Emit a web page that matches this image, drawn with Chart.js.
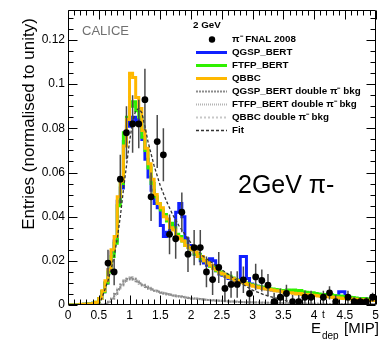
<!DOCTYPE html>
<html>
<head>
<meta charset="utf-8">
<script src="https://cdn.jsdelivr.net/npm/chart.js@4.4.1/dist/chart.umd.min.js"></script>
<style>
    html, body { margin: 0; padding: 0; background: #fff; }
    #wrap { width: 382px; height: 340px; position: relative; }
</style>
</head>
<body>
<div id="wrap"><canvas id="edepChart"></canvas></div>
<script>
(function() {
    'use strict';

    // ==========================================
    // DATA (E_dep in MIP, entries normalised to unity)
    // ==========================================
    const MC_BIN_START = 0;
    const MC_BIN_WIDTH = 0.05;

    const QGSP_BERT = [
        0, 0, 0, 0, 0.0002, 0.0003, 0.0004, 0.0005, 0.0008, 0.0011,
        0.003, 0.006, 0.010, 0.016, 0.024, 0.029, 0.047, 0.053, 0.074, 0.081,
        0.083, 0.085, 0.082, 0.084, 0.075, 0.066, 0.058, 0.052, 0.046, 0.044,
        0.036, 0.031, 0.033, 0.036, 0.035, 0.042, 0.046, 0.040, 0.030, 0.027,
        0.025, 0.023, 0.022, 0.020, 0.019, 0.018, 0.021, 0.020, 0.0155, 0.014,
        0.0135, 0.013, 0.012, 0.0118, 0.011, 0.0108, 0.022, 0.022, 0.012, 0.0095,
        0.009, 0.0085, 0.008, 0.0077, 0.0074, 0.007, 0.0068, 0.0066, 0.0064, 0.0062,
        0.006, 0.0058, 0.0062, 0.0056, 0.0054, 0.0052, 0.005, 0.0049, 0.0048, 0.0046,
        0.0045, 0.0043, 0.0042, 0.004, 0.0039, 0.0038, 0.0037, 0.0036, 0.006, 0.006,
        0.0035, 0.0033, 0.0032, 0.003, 0.003, 0.0028, 0.0027, 0.0026, 0.0025, 0.0024
    ];
    const FTFP_BERT = [
        0, 0, 0, 0, 0.0002, 0.0003, 0.0004, 0.0005, 0.0008, 0.0012,
        0.003, 0.006, 0.010, 0.015, 0.022, 0.028, 0.045, 0.055, 0.078, 0.085,
        0.090, 0.092, 0.088, 0.085, 0.076, 0.070, 0.062, 0.055, 0.049, 0.046,
        0.043, 0.041, 0.038, 0.037, 0.035, 0.032, 0.031, 0.029, 0.027, 0.026,
        0.025, 0.023, 0.023, 0.021, 0.020, 0.019, 0.0175, 0.017, 0.0155, 0.015,
        0.014, 0.0135, 0.013, 0.0122, 0.0115, 0.011, 0.0108, 0.010, 0.0097, 0.0092,
        0.009, 0.0085, 0.0083, 0.008, 0.0078, 0.0074, 0.0072, 0.007, 0.0068, 0.0066,
        0.0065, 0.0068, 0.0063, 0.0068, 0.0062, 0.0066, 0.006, 0.0058, 0.0056, 0.0055,
        0.0052, 0.005, 0.0048, 0.0047, 0.0045, 0.0046, 0.0043, 0.004, 0.0041, 0.0038,
        0.0036, 0.0035, 0.0034, 0.0032, 0.003, 0.003, 0.0029, 0.0027, 0.0026, 0.0025
    ];
    const QBBC = [
        0, 0, 0, 0, 0.0003, 0.0003, 0.0004, 0.0005, 0.0007, 0.0012,
        0.003, 0.0065, 0.011, 0.016, 0.025, 0.031, 0.049, 0.056, 0.072, 0.084,
        0.105, 0.103, 0.094, 0.089, 0.079, 0.071, 0.064, 0.057, 0.050, 0.046,
        0.044, 0.040, 0.039, 0.035, 0.034, 0.031, 0.030, 0.029, 0.027, 0.026,
        0.025, 0.024, 0.022, 0.022, 0.020, 0.019, 0.018, 0.0165, 0.016, 0.0145,
        0.014, 0.013, 0.0125, 0.012, 0.0112, 0.011, 0.0103, 0.0098, 0.0093, 0.009,
        0.0085, 0.0082, 0.0078, 0.0075, 0.0072, 0.007, 0.0068, 0.0065, 0.0063, 0.006,
        0.0058, 0.0056, 0.0055, 0.0053, 0.005, 0.0052, 0.0048, 0.0047, 0.0046, 0.0044,
        0.0043, 0.0041, 0.004, 0.0038, 0.0037, 0.0036, 0.0034, 0.0033, 0.0032, 0.003,
        0.0029, 0.0028, 0.0027, 0.0026, 0.0025, 0.0024, 0.0023, 0.0022, 0.0021, 0.002
    ];

    const QGSP_BERT_BKG = [
        0, 0, 0, 0, 0, 0, 0, 0, 0, 0,
        0, 0.0002, 0.0006, 0.0015, 0.003, 0.005, 0.0072, 0.0092, 0.011, 0.0118,
        0.0125, 0.0118, 0.0108, 0.0098, 0.009, 0.0082, 0.0075, 0.007, 0.0065, 0.006,
        0.0056, 0.0052, 0.0049, 0.0046, 0.0043, 0.004, 0.0038, 0.0036, 0.0034, 0.0032,
        0.003, 0.0029, 0.0027, 0.0026, 0.0024, 0.0023, 0.0022, 0.0021, 0.002, 0.0019,
        0.0018, 0.0017, 0.0016, 0.0016, 0.0015, 0.0014, 0.0014, 0.0013, 0.0013, 0.0012,
        0.0012, 0.0011, 0.0011, 0.001, 0.001, 0.001, 0.0009, 0.0009, 0.0009, 0.0008,
        0.0008, 0.0008, 0.0008, 0.0007, 0.0007, 0.0007, 0.0007, 0.0006, 0.0006, 0.0006,
        0.0006, 0.0006, 0.0005, 0.0005, 0.0005, 0.0005, 0.0005, 0.0005, 0.0004, 0.0004,
        0.0004, 0.0004, 0.0004, 0.0004, 0.0004, 0.0004, 0.0004, 0.0004, 0.0004, 0.0004
    ];
    const FTFP_BERT_BKG = [
        0, 0, 0, 0, 0, 0, 0, 0, 0, 0,
        0, 0.0001, 0.0005, 0.0013, 0.0028, 0.0046, 0.0068, 0.0088, 0.0104, 0.0114,
        0.0119, 0.0113, 0.0104, 0.0095, 0.0088, 0.008, 0.0074, 0.0068, 0.0063, 0.0059,
        0.0055, 0.0051, 0.0048, 0.0045, 0.0042, 0.0039, 0.0037, 0.0035, 0.0033, 0.0031,
        0.003, 0.0028, 0.0027, 0.0025, 0.0024, 0.0023, 0.0021, 0.002, 0.0019, 0.0018,
        0.0018, 0.0017, 0.0016, 0.0015, 0.0015, 0.0014, 0.0013, 0.0013, 0.0012, 0.0012,
        0.0011, 0.0011, 0.001, 0.001, 0.001, 0.0009, 0.0009, 0.0009, 0.0008, 0.0008,
        0.0008, 0.0008, 0.0007, 0.0007, 0.0007, 0.0007, 0.0006, 0.0006, 0.0006, 0.0006,
        0.0006, 0.0005, 0.0005, 0.0005, 0.0005, 0.0005, 0.0005, 0.0004, 0.0004, 0.0004,
        0.0004, 0.0004, 0.0004, 0.0004, 0.0004, 0.0004, 0.0004, 0.0004, 0.0004, 0.0004
    ];
    const QBBC_BKG = [
        0, 0, 0, 0, 0, 0, 0, 0, 0, 0,
        0, 0.0002, 0.0007, 0.0016, 0.0032, 0.0052, 0.0075, 0.0095, 0.0112, 0.0121,
        0.0127, 0.0121, 0.0111, 0.0101, 0.0093, 0.0085, 0.0078, 0.0072, 0.0067, 0.0062,
        0.0058, 0.0054, 0.005, 0.0047, 0.0044, 0.0041, 0.0039, 0.0037, 0.0035, 0.0033,
        0.0031, 0.003, 0.0028, 0.0027, 0.0025, 0.0024, 0.0023, 0.0022, 0.0021, 0.002,
        0.0019, 0.0018, 0.0017, 0.0016, 0.0016, 0.0015, 0.0014, 0.0014, 0.0013, 0.0013,
        0.0012, 0.0012, 0.0011, 0.0011, 0.001, 0.001, 0.001, 0.0009, 0.0009, 0.0009,
        0.0008, 0.0008, 0.0008, 0.0008, 0.0007, 0.0007, 0.0007, 0.0007, 0.0006, 0.0006,
        0.0006, 0.0006, 0.0006, 0.0005, 0.0005, 0.0005, 0.0005, 0.0005, 0.0005, 0.0004,
        0.0004, 0.0004, 0.0004, 0.0004, 0.0004, 0.0004, 0.0004, 0.0004, 0.0004, 0.0004
    ];

    // pi- FNAL 2008 test-beam data (null = no entry drawn)
    const DATA_X = [
        0.65, 0.75, 0.85, 0.95, 1.05, 1.15, 1.25, 1.35, 1.45, 1.55,
        1.65, 1.75, 1.85, 1.95, 2.05, 2.15, 2.25, 2.35, 2.45, 2.55,
        2.65, 2.75, 2.85, 2.95, 3.05, 3.15, 3.25, 3.35, 3.45, 3.55,
        3.65, 3.75, 3.85, 3.95, 4.05, 4.15, 4.25, 4.35, 4.45, 4.55,
        4.65, 4.75, 4.85, 4.95
    ];
    const DATA_Y = [
        0.019, 0.015, 0.057, 0.078, 0.082, 0.082, 0.093, 0.049, 0.074, 0.068,
        0.032, 0.030, 0.042, 0.023, 0.026, 0.026, 0.015, 0.0115, 0.017, 0.0075,
        0.0093, 0.0093, 0.0114, 0.0052, 0.0127, 0.0111, 0.009, 0.0015, 0.0035, 0.0052,
        0.0015, 0.0015, 0.0035, 0.0035, null, 0.0035, 0.0055, 0.0015, null, 0.0035,
        0.0015, 0.0015, 0.0015, 0.0035
    ];
    const DATA_ERR = [
        0.006, 0.006, 0.011, 0.012, 0.013, 0.011, 0.014, 0.011, 0.012, 0.012,
        0.009, 0.009, 0.009, 0.008, 0.008, 0.008, 0.007, 0.007, 0.007, 0.006,
        0.006, 0.006, 0.006, 0.005, 0.006, 0.005, 0.005, 0.004, 0.004, 0.004,
        0.003, 0.003, 0.003, 0.003, 0, 0.003, 0.003, 0.003, 0, 0.003,
        0.002, 0.002, 0.002, 0.002
    ];

    const FIT_X = [
        0.5, 0.55, 0.6, 0.65, 0.7, 0.75, 0.8, 0.85, 0.9, 0.95,
        1.0, 1.05, 1.1, 1.15, 1.2, 1.25, 1.3, 1.4, 1.5, 1.6,
        1.7, 1.8, 1.9, 2.0, 2.2, 2.4, 2.6, 2.8, 3.0, 3.2,
        3.4, 3.6
    ];
    const FIT_Y = [
        0, 0.003, 0.007, 0.011, 0.016, 0.022, 0.030, 0.040, 0.052, 0.063,
        0.074, 0.083, 0.088, 0.089, 0.087, 0.081, 0.074, 0.063, 0.054, 0.047,
        0.041, 0.036, 0.032, 0.028, 0.022, 0.018, 0.014, 0.010, 0.0067, 0.0045,
        0.003, 0.0015
    ];

    const X_TICKS = [0, 0.5, 1, 1.5, 2, 2.5, 3, 3.5, 4, 4.5, 5];
    const Y_TICKS = [0, 0.02, 0.04, 0.06, 0.08, 0.1, 0.12];

    const LABEL_DATA = 'π⁻ FNAL 2008';
    const LEGEND_HEADER = '2 GeV';

    // ==========================================
    // STYLE
    // ==========================================
    const FONT = "'Liberation Sans', Arial, Helvetica, sans-serif";
    const X_MIN = 0, X_MAX = 5;
    const Y_MIN = 0, Y_MAX = 0.1335;

    function histPoints(values) {
        const pts = values.map(function(v, i) {
            return { x: MC_BIN_START + i * MC_BIN_WIDTH, y: v };
        });
        pts.push({ x: MC_BIN_START + values.length * MC_BIN_WIDTH, y: values[values.length - 1] });
        return pts;
    }

    function histDataset(label, values, color, width, dash, order) {
        return {
            label: label,
            data: histPoints(values),
            borderColor: color,
            backgroundColor: color,
            borderWidth: width,
            borderDash: dash,
            stepped: 'before',
            pointRadius: 0,
            fill: false,
            order: order
        };
    }

    const dataPoints = [];
    DATA_X.forEach(function(x, i) {
        if (DATA_Y[i] === null) return;
        dataPoints.push({ x: x, y: DATA_Y[i], err: DATA_ERR[i] });
    });

    const datasets = [
        {
            label: LABEL_DATA,
            data: dataPoints,
            showLine: false,
            pointRadius: 3.4,
            pointBackgroundColor: '#000',
            pointBorderWidth: 0,
            errorBars: true,
            legendKind: 'marker',
            order: 0
        },
        histDataset('QGSP_BERT', QGSP_BERT, '#1020ff', 3, [], 4),
        histDataset('FTFP_BERT', FTFP_BERT, '#30f000', 3, [], 3),
        histDataset('QBBC', QBBC, '#ffb800', 3, [], 2),
        histDataset('QGSP_BERT double π⁻ bkg', QGSP_BERT_BKG, '#8c8c8c', 2, [2, 1], 5),
        histDataset('FTFP_BERT double π⁻ bkg', FTFP_BERT_BKG, '#b4b4b4', 2, [1, 1], 6),
        histDataset('QBBC double π⁻ bkg', QBBC_BKG, '#c8c8c8', 2, [2, 2], 7),
        {
            label: 'Fit',
            data: FIT_X.map(function(x, i) { return { x: x, y: FIT_Y[i] }; }),
            borderColor: '#333',
            borderWidth: 1.3,
            borderDash: [3, 2],
            pointRadius: 0,
            fill: false,
            order: 1
        }
    ];

    // ==========================================
    // PLUGINS
    // ==========================================
    const errorBarPlugin = {
        id: 'errorBars',
        beforeDatasetDraw: function(chart, args) {
            const ds = chart.data.datasets[args.index];
            if (!ds.errorBars) return;
            const ctx = chart.ctx;
            const area = chart.chartArea;
            const y = chart.scales.y;
            ctx.save();
            ctx.beginPath();
            ctx.rect(area.left, area.top, area.right - area.left, area.bottom - area.top);
            ctx.clip();
            ctx.strokeStyle = '#4a4a4a';
            ctx.lineWidth = 1.5;
            args.meta.data.forEach(function(pt, i) {
                const raw = ds.data[i];
                if (!raw.err) return;
                ctx.beginPath();
                ctx.moveTo(pt.x, y.getPixelForValue(raw.y + raw.err));
                ctx.lineTo(pt.x, y.getPixelForValue(raw.y - raw.err));
                ctx.stroke();
            });
            ctx.restore();
        }
    };

    const framePlugin = {
        id: 'frameTicks',
        afterDatasetsDraw: function(chart) {
            const ctx = chart.ctx;
            const a = chart.chartArea;
            const xs = chart.scales.x;
            const ys = chart.scales.y;
            const L = Math.round(a.left) + 0.5, R = Math.round(a.right) - 0.5;
            const T = Math.round(a.top) + 0.5, B = Math.round(a.bottom) - 0.5;
            ctx.save();
            ctx.strokeStyle = '#000';
            ctx.lineWidth = 1;
            ctx.beginPath();
            ctx.rect(L, T, R - L, B - T);
            ctx.stroke();

            ctx.beginPath();
            // x ticks: bottom and top, minor every 0.1
            for (let k = 0; k <= 50; k++) {
                const v = X_MIN + k * 0.1;
                const px = Math.round(xs.getPixelForValue(v)) + 0.5;
                const len = (k % 5 === 0) ? 9 : 5;
                ctx.moveTo(px, B); ctx.lineTo(px, B - len);
                ctx.moveTo(px, T); ctx.lineTo(px, T + len);
            }
            // y ticks: left and right, minor every 0.005
            for (let k = 0; k * 0.005 <= Y_MAX; k++) {
                const v = k * 0.005;
                const py = Math.round(ys.getPixelForValue(v)) + 0.5;
                const len = (k % 4 === 0) ? 9 : 5;
                ctx.moveTo(L, py); ctx.lineTo(L + len, py);
                ctx.moveTo(R, py); ctx.lineTo(R - len, py);
            }
            ctx.stroke();
            ctx.restore();
        },
        afterDraw: function(chart) {
            const ctx = chart.ctx;
            ctx.save();

            // axis titles
            ctx.fillStyle = '#000';
            ctx.save();
            ctx.translate(29, 124);
            ctx.rotate(-Math.PI / 2);
            ctx.font = '17px ' + FONT;
            ctx.textAlign = 'center';
            ctx.textBaseline = 'middle';
            ctx.fillText('Entries (normalised to unity)', 0, 0);
            ctx.restore();

            ctx.textBaseline = 'alphabetic';
            ctx.textAlign = 'left';
            ctx.font = '15px ' + FONT;
            ctx.fillText('E', 311, 333);
            ctx.font = '10px ' + FONT;
            ctx.fillText('t', 322, 318);
            ctx.fillText('dep', 322, 339);
            ctx.font = '15px ' + FONT;
            ctx.textAlign = 'right';
            ctx.fillText('[MIP]', 379, 333);

            // labels inside the frame
            ctx.textAlign = 'left';
            ctx.fillStyle = '#707070';
            ctx.font = '13px ' + FONT;
            ctx.fillText('CALICE', 82, 35);

            ctx.fillStyle = '#000';
            ctx.font = '25px ' + FONT;
            ctx.fillText('2GeV π-', 238, 193);

            // legend
            ctx.font = 'bold 9.8px ' + FONT;
            ctx.fillText(LEGEND_HEADER, 193, 28);
            ctx.textBaseline = 'middle';
            const order = [0, 1, 2, 3, 4, 5, 6, 7];
            order.forEach(function(idx, row) {
                const ds = chart.data.datasets[idx];
                const cy = 39.5 + row * 13;
                if (ds.legendKind === 'marker') {
                    ctx.fillStyle = '#000';
                    ctx.beginPath();
                    ctx.arc(212, cy, 3.2, 0, Math.PI * 2);
                    ctx.fill();
                } else {
                    ctx.save();
                    ctx.strokeStyle = ds.borderColor;
                    ctx.lineWidth = ds.borderWidth;
                    ctx.setLineDash(ds.borderDash || []);
                    ctx.beginPath();
                    ctx.moveTo(196, cy);
                    ctx.lineTo(227, cy);
                    ctx.stroke();
                    ctx.restore();
                }
                ctx.fillStyle = '#000';
                ctx.fillText(ds.label, 232, cy);
            });
            ctx.restore();
        }
    };

    function fmtTick(v) {
        return String(+Number(v).toFixed(3));
    }

    // ==========================================
    // CHART
    // ==========================================
    Chart.defaults.font.family = FONT;

    new Chart(document.getElementById('edepChart').getContext('2d'), {
        type: 'line',
        data: { datasets: datasets },
        options: {
            responsive: true,
            maintainAspectRatio: false,
            animation: false,
            layout: { padding: { top: 8, right: 4, left: 0, bottom: 0 } },
            plugins: {
                legend: { display: false },
                tooltip: { enabled: false }
            },
            scales: {
                x: {
                    type: 'linear',
                    min: X_MIN,
                    max: X_MAX,
                    grid: { display: false, drawTicks: false },
                    border: { display: false },
                    ticks: {
                        color: '#000',
                        font: { size: 12 },
                        padding: 3,
                        maxRotation: 0,
                        autoSkip: false,
                        callback: fmtTick
                    },
                    afterBuildTicks: function(scale) {
                        scale.ticks = X_TICKS.map(function(v) { return { value: v }; });
                    },
                    afterFit: function(scale) { scale.height = 35; }
                },
                y: {
                    type: 'linear',
                    min: Y_MIN,
                    max: Y_MAX,
                    grid: { display: false, drawTicks: false },
                    border: { display: false },
                    ticks: {
                        color: '#000',
                        font: { size: 12 },
                        padding: 3,
                        autoSkip: false,
                        callback: fmtTick
                    },
                    afterBuildTicks: function(scale) {
                        scale.ticks = Y_TICKS.map(function(v) { return { value: v }; });
                    },
                    afterFit: function(scale) { scale.width = 68; }
                }
            }
        },
        plugins: [errorBarPlugin, framePlugin]
    });
})();
</script>
</body>
</html>
